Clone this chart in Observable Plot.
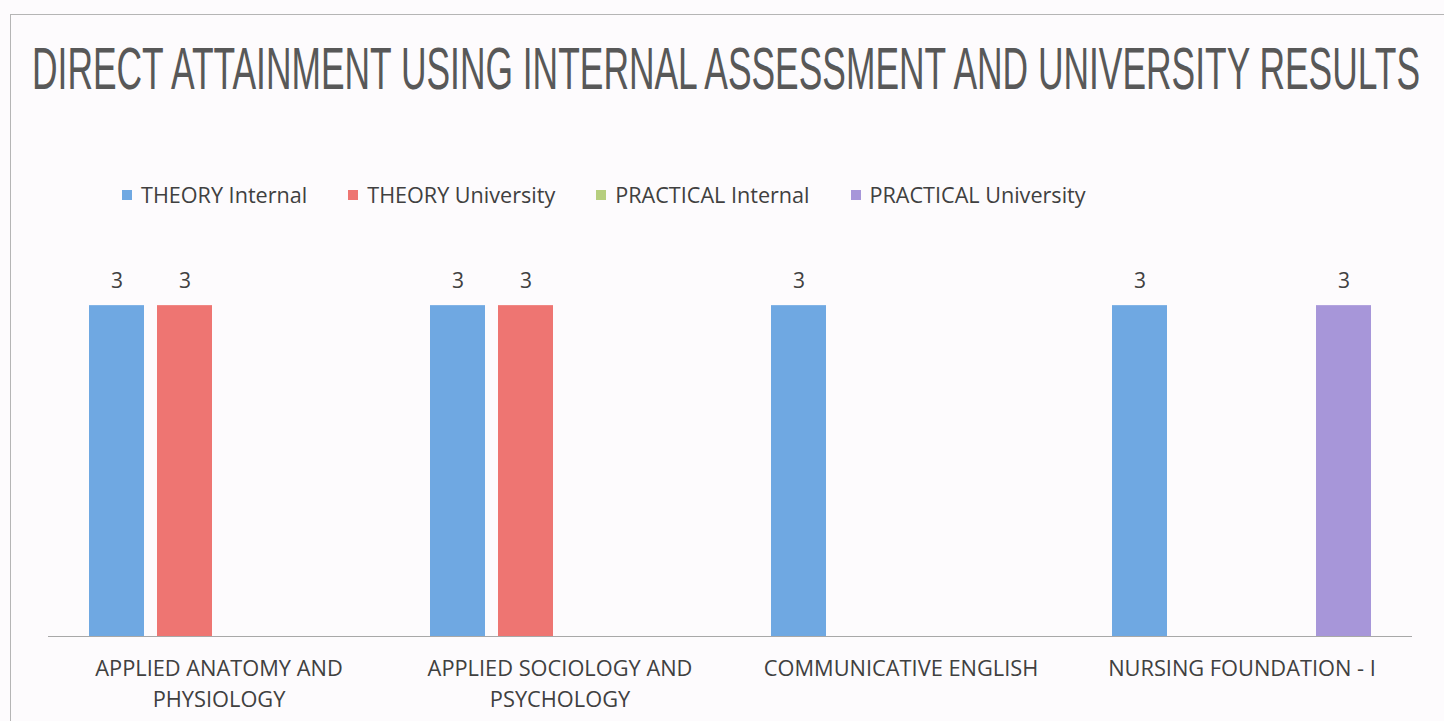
<!DOCTYPE html>
<html><head><meta charset="utf-8">
<script src="https://cdn.jsdelivr.net/npm/d3@7"></script>
<script src="https://cdn.jsdelivr.net/npm/@observablehq/plot@0.6"></script>
<style>
body{margin:0;background:#fdfbfd;width:1444px;height:721px;overflow:hidden;position:relative;font-family:"Open Sans",sans-serif;color:#404040}
#frame{position:absolute;left:10px;top:14px;width:1440px;height:720px;border-top:1px solid #b5b5b5;border-left:1px solid #b5b5b5;}
#title{position:absolute;left:32px;top:39px;font-family:"Liberation Sans",sans-serif;font-size:60px;color:#585858;white-space:nowrap;transform-origin:0 0;line-height:1;margin:0;font-weight:normal}
#legend{position:absolute;top:181px;left:122px;display:flex;gap:41px;font-size:21.6px;line-height:28px;white-space:nowrap}
.item{display:flex;align-items:center}
.sw{width:10px;height:10px;margin-right:9px}
#chart{position:absolute;top:250px;left:0}
</style></head>
<body>
<div id="frame"></div>
<h1 id="title">DIRECT ATTAINMENT USING INTERNAL ASSESSMENT AND UNIVERSITY RESULTS</h1>
<div id="legend"></div>
<div id="chart"></div>
<script>
const categories = ["APPLIED ANATOMY AND PHYSIOLOGY","APPLIED SOCIOLOGY AND PSYCHOLOGY","COMMUNICATIVE ENGLISH","NURSING FOUNDATION - I"];
const tickLabels = ["APPLIED ANATOMY AND\nPHYSIOLOGY","APPLIED SOCIOLOGY AND\nPSYCHOLOGY","COMMUNICATIVE ENGLISH","NURSING FOUNDATION - I"];
const series = ["THEORY Internal","THEORY University","PRACTICAL Internal","PRACTICAL University"];
const colors = ["#6fa8e2","#ee7572","#b6ce7e","#a796d9"];
const theoryInternal = [3,3,3,3];
const theoryUniversity = [3,3,null,null];
const practicalInternal = [null,null,null,null];
const practicalUniversity = [null,null,null,3];

const valuesBySeries = [theoryInternal, theoryUniversity, practicalInternal, practicalUniversity];
const rows = [];
categories.forEach((c, i) => series.forEach((s, j) => {
  const v = valuesBySeries[j][i];
  if (v != null) rows.push({cat: c, series: s, value: v});
}));

// legend
const legend = document.getElementById("legend");
series.forEach((s, j) => {
  const it = document.createElement("div"); it.className = "item";
  const sw = document.createElement("span"); sw.className = "sw"; sw.style.background = colors[j];
  const t = document.createElement("span"); t.textContent = s;
  it.append(sw, t); legend.append(it);
});

const chart = Plot.plot({
  width: 1444, height: 471,
  marginLeft: 46, marginRight: 31, marginTop: 0, marginBottom: 85,
  style: {fontFamily: '"Open Sans", sans-serif', background: "transparent", color: "#404040"},
  fx: {domain: categories, padding: 0},
  x: {domain: series, paddingInner: 0.19, paddingOuter: 0.6, axis: null},
  y: {domain: [0, 3.5], axis: null},
  color: {domain: series, range: colors},
  marks: [
    Plot.barY(rows, {fx: "cat", x: "series", y: "value", fill: "series"}),
    Plot.text(rows, {fx: "cat", x: "series", y: "value", text: d => String(d.value), dy: -24, fontSize: 21, fill: "#404040"}),
    Plot.ruleY([0], {stroke: "#a8a8a8", strokeWidth: 1}),
    Plot.axisFx({anchor: "bottom", tickFormat: d => tickLabels[categories.indexOf(d)], tickSize: 0, tickPadding: 18, fontSize: 21.8, lineHeight: 1.42, label: null, color: "#404040"})
  ]
});
document.getElementById("chart").append(chart);

// fit title width
const title = document.getElementById("title");
const w = title.getBoundingClientRect().width;
title.style.transform = `scaleX(${1388 / w})`;
</script>
</body></html>
